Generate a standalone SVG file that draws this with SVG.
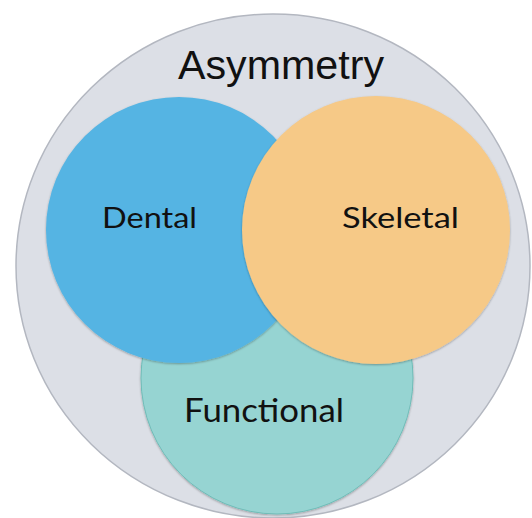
<svg xmlns="http://www.w3.org/2000/svg" width="532" height="518" viewBox="0 0 532 518">
<style>
.lbl{font-family:Lato,"Open Sans","DejaVu Sans",sans-serif;fill:#111;}
.title{font-family:"Liberation Sans",Arial,sans-serif;fill:#111;}
</style>
<defs>
<filter id="sh" x="-10%" y="-10%" width="120%" height="120%">
<feDropShadow dx="0" dy="1" stdDeviation="1.2" flood-color="#000" flood-opacity="0.3"/>
</filter>
</defs>
<rect width="532" height="518" fill="#ffffff"/>
<g id="asymmetry">
<ellipse cx="273" cy="266" rx="257" ry="252" fill="#dcdfe6" stroke="#b3b7c0" stroke-width="1.5"/>
<text class="title" x="281" y="79" font-size="41" text-anchor="middle" textLength="206" lengthAdjust="spacingAndGlyphs">Asymmetry</text>
</g>
<g id="functional">
<circle cx="277" cy="378" r="136" fill="#96d4d2" stroke="#6fbdb8" stroke-width="1" filter="url(#sh)"/>
<text class="lbl" x="264" y="422" font-size="33" text-anchor="middle" textLength="160" lengthAdjust="spacingAndGlyphs">Functional</text>
</g>
<g id="dental">
<circle cx="179" cy="230" r="133" fill="#55b4e3" filter="url(#sh)"/>
<text class="lbl" x="149.5" y="228" font-size="29" text-anchor="middle" textLength="95" lengthAdjust="spacingAndGlyphs">Dental</text>
</g>
<g id="skeletal">
<circle cx="376" cy="230" r="134" fill="#f6c987" filter="url(#sh)"/>
<text class="lbl" x="400.5" y="228" font-size="29" text-anchor="middle" textLength="117" lengthAdjust="spacingAndGlyphs">Skeletal</text>
</g>
<g id="connectors"></g>
</svg>
